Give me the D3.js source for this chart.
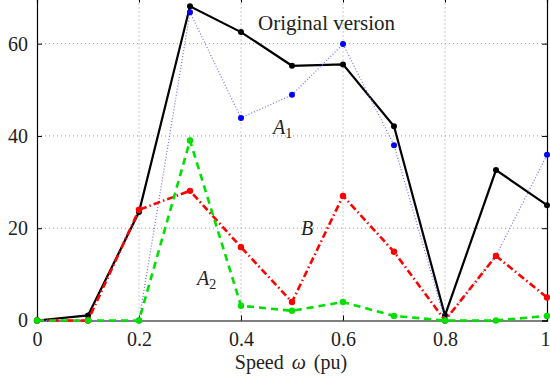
<!DOCTYPE html>
<html>
<head>
<meta charset="utf-8">
<script src="https://cdn.jsdelivr.net/npm/d3@7"></script>
<style>
body { margin: 0; background: #fff; }
text { font-family: "Liberation Serif", "Times New Roman", serif; }
</style>
</head>
<body>
<svg id="svg" width="550" height="381"></svg>
<script>
var speed = [0, 0.1, 0.2, 0.3, 0.4, 0.5, 0.6, 0.7, 0.8, 0.9, 1.0];
var original = [0, 1.1, 23.5, 68.1, 62.5, 55.2, 55.5, 42.1, 1.1, 32.6, 25.0];
var a1 = [0, 0, 0, 66.8, 43.9, 48.9, 59.9, 38, 0, 14, 35.9];
var b = [0, 0, 24, 28.1, 15.9, 4.0, 27, 14.9, 0, 14, 5];
var a2 = [0, 0, 0, 39, 3.2, 2.1, 4, 1, 0, 0, 1];
var xTicks = [0, 0.2, 0.4, 0.6, 0.8, 1];
var yTicks = [0, 20, 40, 60];

var svg = d3.select("#svg"),
    margin = {left: 37, right: 3, top: -2.5, bottom: 60.5},
    width = 550 - margin.left - margin.right,
    height = 381 - margin.top - margin.bottom;

var x = d3.scaleLinear().domain([0, 1]).range([margin.left, margin.left + width]);
var y = d3.scaleLinear().domain([0, 70]).range([margin.top + height, margin.top]);

// grid
var grid = svg.append("g").attr("class", "grid");
grid.selectAll("line.gx")
  .data(xTicks.slice(1, -1))
  .enter().append("line")
    .attr("x1", function(d) { return x(d); })
    .attr("x2", function(d) { return x(d); })
    .attr("y1", y(0)).attr("y2", y(70))
    .attr("stroke", "#999").attr("stroke-width", 1)
    .attr("stroke-dasharray", "1,3");
grid.selectAll("line.gy")
  .data(yTicks.slice(1))
  .enter().append("line")
    .attr("y1", function(d) { return y(d); })
    .attr("y2", function(d) { return y(d); })
    .attr("x1", x(0)).attr("x2", x(1))
    .attr("stroke", "#999").attr("stroke-width", 1)
    .attr("stroke-dasharray", "1,3");

// axes (matlab style, ticks inside)
var fs = "20px";
svg.append("g")
    .attr("transform", "translate(0," + y(0) + ")")
    .call(d3.axisBottom(x).tickValues(xTicks).tickSize(-5).tickPadding(11.5)
      .tickFormat(function(d) { return d; }))
    .call(function(g) {
      g.select(".domain").attr("stroke-width", 1.2);
      g.selectAll("text").attr("font-size", fs).attr("font-family", "Liberation Serif").attr("fill", "#222");
      g.selectAll(".tick:last-of-type text").attr("dx", "-2");
    });
svg.append("g")
    .attr("transform", "translate(0," + y(70) + ")")
    .call(d3.axisTop(x).tickValues(xTicks).tickSize(-5).tickFormat(""))
    .call(function(g) { g.select(".domain").attr("stroke-width", 1.2); });
svg.append("g")
    .attr("transform", "translate(" + x(0) + ",0)")
    .call(d3.axisLeft(y).tickValues(yTicks).tickSize(-5).tickPadding(9))
    .call(function(g) {
      g.select(".domain").attr("stroke-width", 1.2);
      g.selectAll("text").attr("font-size", fs).attr("font-family", "Liberation Serif").attr("fill", "#222");
    });
svg.append("g")
    .attr("transform", "translate(" + x(1) + ",0)")
    .call(d3.axisRight(y).tickValues(yTicks).tickSize(-5).tickFormat(""))
    .call(function(g) { g.select(".domain").attr("stroke-width", 1.2); });

svg.append("text")
    .attr("x", x(0.5) - 1).attr("y", 369)
    .attr("text-anchor", "middle")
    .attr("font-size", fs).attr("fill", "#222")
    .attr("word-spacing", "3px")
    .html('Speed <tspan font-style="italic">ω</tspan> (pu)');

var series = [
  {name: "orig", vals: original, color: "#000", width: 2.2, dash: null, r: 3},
  {name: "a1", vals: a1, color: "#0000ff", width: 1.2, dash: "1,2", r: 3, lineColor: "#6f6fff"},
  {name: "b", vals: b, color: "#ff0000", width: 2.6, dash: "7,3,1.5,3", r: 3.2},
  {name: "a2", vals: a2, color: "#00e000", width: 2.6, dash: "7,5", r: 3.2}
];

var line = d3.line()
    .x(function(d) { return x(d[0]); })
    .y(function(d) { return y(d[1]); });

series.forEach(function(s) {
  var pts = speed.map(function(v, i) { return [v, s.vals[i]]; });
  var g = svg.append("g").attr("class", s.name);
  g.append("path")
    .datum(pts)
    .attr("d", line)
    .attr("fill", "none")
    .attr("stroke", s.lineColor || s.color)
    .attr("stroke-width", s.width)
    .attr("stroke-dasharray", s.dash);
  g.selectAll("circle")
    .data(pts)
    .enter().append("circle")
      .attr("cx", function(d) { return x(d[0]); })
      .attr("cy", function(d) { return y(d[1]); })
      .attr("r", s.r)
      .attr("fill", s.color);
});

// annotations
svg.append("text").attr("x", 258).attr("y", 30)
    .attr("font-size", "21px").attr("fill", "#222").text("Original version");
svg.append("text").attr("x", 273).attr("y", 134)
    .attr("font-size", fs).attr("fill", "#222")
    .html('<tspan font-style="italic">A</tspan><tspan font-size="14px" dy="4">1</tspan>');
svg.append("text").attr("x", 301).attr("y", 235)
    .attr("font-size", fs).attr("fill", "#222").attr("font-style", "italic").text("B");
svg.append("text").attr("x", 197).attr("y", 285)
    .attr("font-size", fs).attr("fill", "#222")
    .html('<tspan font-style="italic">A</tspan><tspan font-size="14px" dy="4">2</tspan>');
</script>
</body>
</html>
